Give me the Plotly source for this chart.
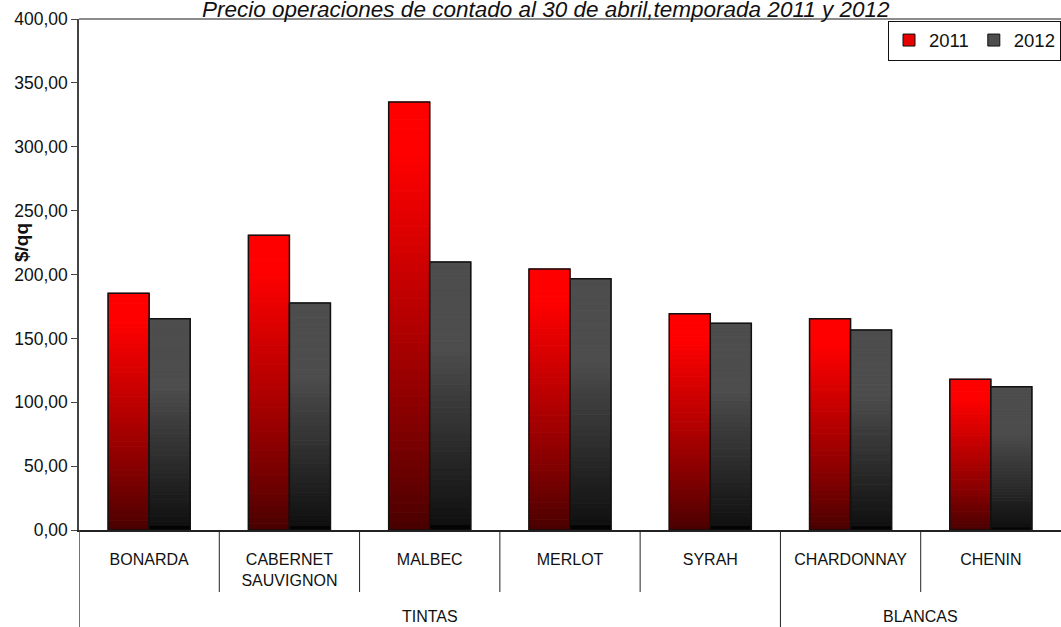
import plotly.graph_objects as go

categories = ["BONARDA", "CABERNET<br>SAUVIGNON", "MALBEC", "MERLOT", "SYRAH", "CHARDONNAY", "CHENIN"]
groups = ["TINTAS", "BLANCAS"]
group_sizes = [5, 2]
values_2011 = [185.3, 230.7, 335.0, 204.3, 169.3, 165.4, 118.0]
values_2012 = [165.4, 177.7, 209.8, 196.7, 161.8, 156.6, 112.2]
series_names = ["2011", "2012"]
title_text = "Precio operaciones de contado al 30 de abril,temporada 2011 y 2012"
y_title = "$/qq"

N = 48
FONT = "Liberation Sans, Arial, sans-serif"


def red_color(t):
    f = min(1.0, t / 0.88)
    r = int(round(72 + (255 - 72) * f ** 0.9))
    return f"rgb({r},0,0)"


def gray_color(t):
    if t < 0.02:
        return "rgb(3,3,3)"
    f = min(1.0, t / 0.68)
    g = int(round(14 + (77 - 14) * f))
    return f"rgb({g},{g},{g})"


fig = go.Figure()
x_idx = list(range(len(categories)))

for name, vals, cfun in [(series_names[0], values_2011, red_color),
                         (series_names[1], values_2012, gray_color)]:
    for k in range(N):
        t = (k + 0.5) / N
        c = cfun(t)
        fig.add_trace(go.Bar(
            x=x_idx,
            y=[v / N for v in vals],
            base=[v * k / N for v in vals],
            offsetgroup=name,
            marker=dict(color=c, line=dict(width=1, color=c)),
            showlegend=False,
            hoverinfo="skip",
        ))
    # outline
    fig.add_trace(go.Bar(
        x=x_idx,
        y=vals,
        offsetgroup=name,
        marker=dict(color="rgba(0,0,0,0)", line=dict(color="#111111", width=1.5)),
        showlegend=False,
        name=name,
        hovertemplate="%{y:.2f}<extra>" + name + "</extra>",
    ))
    # legend entry
    fig.add_trace(go.Bar(
        x=[None],
        y=[None],
        offsetgroup=name,
        name=name,
        marker=dict(color=cfun(0.75), line=dict(color="#111111", width=1)),
        showlegend=True,
    ))

shapes = []
# top frame line
shapes.append(dict(type="line", xref="paper", yref="paper", x0=0, x1=1, y0=1, y1=1,
                   line=dict(color="#8c8c8c", width=2)))
# dividers
bottom_inner = -(592 - 530) / 511
bottom_outer = -(627 - 530) / 511
shapes.append(dict(type="line", xref="x", yref="paper", x0=-0.5, x1=-0.5, y0=0, y1=bottom_outer,
                   line=dict(color="#444444", width=1.5)))
boundaries = []
acc = 0
for s in group_sizes[:-1]:
    acc += s
    boundaries.append(acc)
for i in range(1, len(categories)):
    yb = bottom_outer if i in boundaries else bottom_inner
    shapes.append(dict(type="line", xref="x", yref="paper", x0=i - 0.5, x1=i - 0.5, y0=0, y1=yb,
                       line=dict(color="#222222", width=1)))

annotations = []
start = 0
for g, s in zip(groups, group_sizes):
    center = start + (s - 1) / 2
    annotations.append(dict(text=g, x=center, xref="x", y=-(616 - 530) / 511, yref="paper",
                            showarrow=False, xanchor="center", yanchor="middle",
                            font=dict(family=FONT, size=16, color="#111111")))
    start += s

annotations.append(dict(text="<i>" + title_text + "</i>", x=(546 - 79) / 982, xref="paper",
                        y=1 + (19 - 9) / 511, yref="paper", showarrow=False,
                        xanchor="center", yanchor="middle",
                        font=dict(family=FONT, size=22.5, color="#111111")))
annotations.append(dict(text="<b>" + y_title + "</b>", x=(21 - 79) / 982, xref="paper",
                        y=(530 - 243) / 511, yref="paper", showarrow=False, textangle=-90,
                        xanchor="center", yanchor="middle",
                        font=dict(family=FONT, size=19, color="#111111")))

fig.update_layout(
    width=1061, height=627,
    margin=dict(l=79, r=0, t=19, b=97),
    paper_bgcolor="white", plot_bgcolor="white",
    barmode="group", bargap=0.415, bargroupgap=0,
    separators=",.",
    font=dict(family=FONT, color="#111111"),
    showlegend=True,
    legend=dict(orientation="h", x=1, xanchor="right", y=0.997, yanchor="top",
                bordercolor="#111111", borderwidth=1, bgcolor="white",
                font=dict(family=FONT, size=18.5, color="#111111"),
                itemwidth=30, tracegroupgap=0),
    shapes=shapes,
    annotations=annotations,
    xaxis=dict(tickmode="array", tickvals=x_idx, ticktext=categories,
               range=[-0.5, len(categories) - 0.5],
               showline=True, linecolor="#222222", linewidth=1.5,
               ticks="", ticklabelstandoff=14, showgrid=False, zeroline=False,
               tickfont=dict(family=FONT, size=16, color="#111111")),
    yaxis=dict(range=[0, 400], dtick=50, tickformat=".2f",
               showline=True, linecolor="#444444", linewidth=1.5,
               ticks="outside", ticklen=6, tickcolor="#444444",
               showgrid=False, zeroline=False,
               tickfont=dict(family=FONT, size=17.5, color="#111111")),
)

fig.write_html("out.html", config={"displayModeBar": False},
               post_script="document.body.style.margin='0';document.body.style.overflow='hidden';")
